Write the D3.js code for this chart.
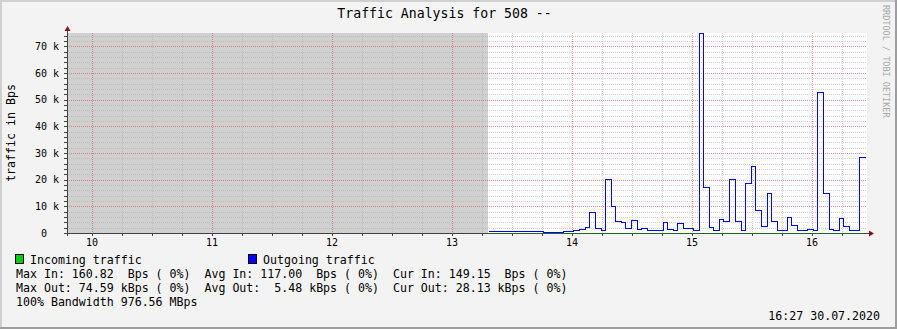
<!DOCTYPE html>
<html>
<head>
<meta charset="utf-8">
<script src="https://cdn.jsdelivr.net/npm/d3@7"></script>
<style>
  html, body { margin: 0; padding: 0; background: #f3f3f3; }
  svg { display: block; }
  text { font-family: "DejaVu Sans Mono", monospace; white-space: pre; }
</style>
</head>
<body>
<svg id="chart" width="897" height="329"></svg>
<script>
// chart data
const day = '2020-07-30'
const titleText = 'Traffic Analysis for 508 --'
const yLabel = 'traffic in Bps'
const timeDomain = ['09:47:30', '16:27:30']
const unknownRange = ['09:47:30', '13:18:00'] // no data (grey block)
const yMax = 75000
const yTickValues = [0, 10000, 20000, 30000, 40000, 50000, 60000, 70000]

// outgoing traffic: step start times and values (Bps), last time = end of last step
const outTimes = ['13:18:00', '13:45:30', '13:55:30', '14:00:30', '14:03:30', '14:06:30', '14:08:30',
  '14:11:30', '14:14:30', '14:16:30', '14:19:30', '14:21:30', '14:24:30', '14:26:30', '14:29:30',
  '14:32:30', '14:34:30', '14:37:30', '14:45:30', '14:47:30', '14:50:30', '14:52:30', '14:55:30',
  '15:00:30', '15:03:40', '15:05:40', '15:08:40', '15:10:40', '15:13:40', '15:15:40', '15:18:40',
  '15:21:40', '15:24:40', '15:26:40', '15:29:40', '15:31:40', '15:34:40', '15:37:40', '15:39:40',
  '15:42:40', '15:47:40', '15:49:40', '15:52:40', '15:57:40', '16:00:40', '16:02:40', '16:05:40',
  '16:08:40', '16:10:40', '16:13:40', '16:15:40', '16:18:40', '16:23:40', '16:26:40']
const outValues = [400, 30, 400, 750, 1100, 1750, 7400,
  1400, 750, 20000, 9600, 4000, 3750, 1500, 4400,
  1000, 1400, 750, 3650, 1000, 650, 3250, 1400,
  650, 74590, 16750, 1750, 650, 4750, 4000, 20000,
  4000, 650, 18250, 24600, 8100, 2150, 14500, 4000,
  650, 5500, 2500, 650, 1000, 650, 52400, 14500,
  1000, 650, 5150, 2150, 650, 28130]

// incoming traffic (tiny, Bps)
const inTimes = ['13:18:00', '14:00:30', '14:45:30', '15:30:40', '16:05:40', '16:26:40']
const inValues = [110, 120, 160, 115, 149]

const legendItems = [
  { label: 'Incoming traffic', color: '#00cc00' },
  { label: 'Outgoing traffic', color: '#0000ff' }
]
const statLines = [
  'Max In: 160.82  Bps ( 0%)  Avg In: 117.00  Bps ( 0%)  Cur In: 149.15  Bps ( 0%)',
  'Max Out: 74.59 kBps ( 0%)  Avg Out:  5.48 kBps ( 0%)  Cur Out: 28.13 kBps ( 0%)',
  '100% Bandwidth 976.56 MBps'
]
const stampText = '16:27 30.07.2020'
const watermark = 'RRDTOOL / TOBI OETIKER'

// layout
const W = 897, H = 329
const plot = { left: 67, right: 867, top: 33, bottom: 233 }
const parse = d3.timeParse('%Y-%m-%d %H:%M:%S')
const t = s => parse(`${day} ${s}`)
const px = v => Math.round(v) + 0.5

const svg = d3.select('#chart')

// canvas with 3d-ish border
svg.append('rect').attr('width', W).attr('height', H).attr('fill', '#f3f3f3')
svg.append('path').attr('d', `M0,${H} V0 H${W}`).attr('fill', 'none')
  .attr('stroke', '#cfcfcf').attr('stroke-width', 4)
svg.append('path').attr('d', `M${W},0 V${H} H0`).attr('fill', 'none')
  .attr('stroke', '#9e9e9e').attr('stroke-width', 4)

const x = d3.scaleTime().domain(timeDomain.map(t)).range([plot.left, plot.right])
const y = d3.scaleLinear().domain([0, yMax]).range([plot.bottom, plot.top])

// plot background
svg.append('rect')
  .attr('x', plot.left).attr('y', plot.top)
  .attr('width', plot.right - plot.left).attr('height', plot.bottom - plot.top)
  .attr('fill', '#ffffff')

// unknown data area
svg.append('rect')
  .attr('x', x(t(unknownRange[0]))).attr('y', plot.top)
  .attr('width', x(t(unknownRange[1])) - x(t(unknownRange[0])))
  .attr('height', plot.bottom - plot.top)
  .attr('fill', '#d0d0d0')

// grid
const grid = svg.append('g').attr('shape-rendering', 'crispEdges')
const minorY = d3.range(0, yMax + 1, 2000).filter(v => v % 10000 !== 0 && v > 0)
const minorX = x.ticks(d3.timeMinute.every(15)).filter(d => d.getMinutes() !== 0)
const majorX = x.ticks(d3.timeHour.every(1))

grid.selectAll('.gy').data(minorY).join('line')
  .attr('x1', plot.left).attr('x2', plot.right)
  .attr('y1', d => px(y(d))).attr('y2', d => px(y(d)))
  .attr('stroke', '#a8a8a8').attr('stroke-opacity', 0.5).attr('stroke-dasharray', '1,1')
grid.selectAll('.gx').data(minorX).join('line')
  .attr('y1', plot.top).attr('y2', plot.bottom)
  .attr('x1', d => px(x(d))).attr('x2', d => px(x(d)))
  .attr('stroke', '#a8a8a8').attr('stroke-opacity', 0.5).attr('stroke-dasharray', '1,1')
grid.selectAll('.my').data(yTickValues.filter(v => v > 0)).join('line')
  .attr('x1', plot.left).attr('x2', plot.right)
  .attr('y1', d => px(y(d))).attr('y2', d => px(y(d)))
  .attr('stroke', '#d05050').attr('stroke-opacity', 0.6).attr('stroke-dasharray', '1,1')
grid.selectAll('.mx').data(majorX).join('line')
  .attr('y1', plot.top).attr('y2', plot.bottom)
  .attr('x1', d => px(x(d))).attr('x2', d => px(x(d)))
  .attr('stroke', '#d05050').attr('stroke-opacity', 0.6).attr('stroke-dasharray', '1,1')

// axes
const axisColor = '#404040'
const axes = svg.append('g').attr('shape-rendering', 'crispEdges')
axes.append('line')
  .attr('x1', plot.left - 3).attr('x2', plot.right + 3)
  .attr('y1', px(plot.bottom)).attr('y2', px(plot.bottom))
  .attr('stroke', axisColor)
axes.append('line')
  .attr('x1', px(plot.left)).attr('x2', px(plot.left))
  .attr('y1', plot.top - 3).attr('y2', plot.bottom + 3)
  .attr('stroke', axisColor)
axes.selectAll('.ty').data(minorY.concat(yTickValues)).join('line')
  .attr('x1', plot.left - 3).attr('x2', plot.left)
  .attr('y1', d => px(y(d))).attr('y2', d => px(y(d)))
  .attr('stroke', axisColor)
axes.selectAll('.tx').data(minorX.concat(majorX)).join('line')
  .attr('y1', plot.bottom).attr('y2', plot.bottom + 3)
  .attr('x1', d => px(x(d))).attr('x2', d => px(x(d)))
  .attr('stroke', axisColor)

// arrows
const arrowColor = '#8b1010'
svg.append('path')
  .attr('d', `M${plot.left - 2.5},${plot.top - 2} L${plot.left + 3.5},${plot.top - 2} L${plot.left + 0.5},${plot.top - 7} Z`)
  .attr('fill', arrowColor)
svg.append('path')
  .attr('d', `M${plot.right + 2},${plot.bottom - 2.5} L${plot.right + 2},${plot.bottom + 3.5} L${plot.right + 7},${plot.bottom + 0.5} Z`)
  .attr('fill', arrowColor)

// incoming traffic area (drawn as a thin strip over the axis)
const inData = inTimes.map((s, i) => ({ t: t(s), v: inValues[Math.min(i, inValues.length - 1)] }))
svg.append('path')
  .datum(inData)
  .attr('d', d3.line().curve(d3.curveStepAfter).x(d => x(d.t)).y(d => px(plot.bottom) - (plot.bottom - y(d.v))))
  .attr('fill', 'none').attr('stroke', '#1f6a1f').attr('stroke-width', 1)
  .attr('shape-rendering', 'crispEdges')

// outgoing traffic line
const outData = outTimes.map((s, i) => ({ t: t(s), v: outValues[Math.min(i, outValues.length - 1)] }))
svg.append('path')
  .datum(outData)
  .attr('d', d3.line().curve(d3.curveStepAfter).x(d => Math.round(x(d.t)) + 0.5).y(d => Math.round(y(d.v)) - 0.5))
  .attr('fill', 'none').attr('stroke', '#0000ff').attr('stroke-width', 1)
  .attr('shape-rendering', 'crispEdges')

// axis labels
const fmtY = v => v === 0 ? '0  ' : `${v / 1000} k`
svg.append('g').selectAll('text').data(yTickValues).join('text')
  .attr('x', plot.left - 8).attr('y', d => y(d) + 3.5)
  .attr('text-anchor', 'end').attr('font-size', '10px').attr('fill', '#000')
  .text(fmtY)
svg.append('g').selectAll('text').data(majorX).join('text')
  .attr('x', d => x(d)).attr('y', plot.bottom + 13)
  .attr('text-anchor', 'middle').attr('font-size', '10px').attr('fill', '#000')
  .text(d3.timeFormat('%H'))

svg.append('text')
  .attr('transform', `translate(15, ${(plot.top + plot.bottom) / 2}) rotate(-90)`)
  .attr('text-anchor', 'middle').attr('font-size', '11.6px').attr('fill', '#000')
  .text(yLabel)

// title
svg.append('text')
  .attr('x', W / 2 - 4).attr('y', 18)
  .attr('text-anchor', 'middle').attr('font-size', '13.2px').attr('fill', '#000')
  .text(titleText)

// watermark
svg.append('text')
  .attr('transform', `translate(883, 5) rotate(90)`)
  .attr('font-size', '8.5px').attr('fill', '#a8a8a8')
  .text(watermark)

// legend
const legend = svg.append('g')
legendItems.forEach((item, i) => {
  const lx = 16 + i * 233
  legend.append('rect')
    .attr('x', lx - 0.5).attr('y', 254.5).attr('width', 8).attr('height', 9)
    .attr('fill', item.color).attr('stroke', '#000').attr('stroke-width', 1)
  legend.append('text')
    .attr('x', lx + 14).attr('y', 263.5)
    .attr('font-size', '11.6px').attr('fill', '#000')
    .text(item.label)
})
legend.selectAll('.stat').data(statLines).join('text')
  .attr('x', 16).attr('y', (d, i) => 277.5 + i * 14)
  .attr('font-size', '11.6px').attr('fill', '#000')
  .text(d => d)

svg.append('text')
  .attr('x', 880).attr('y', 319.5)
  .attr('text-anchor', 'end').attr('font-size', '11.6px').attr('fill', '#000')
  .text(stampText)
</script>
</body>
</html>
